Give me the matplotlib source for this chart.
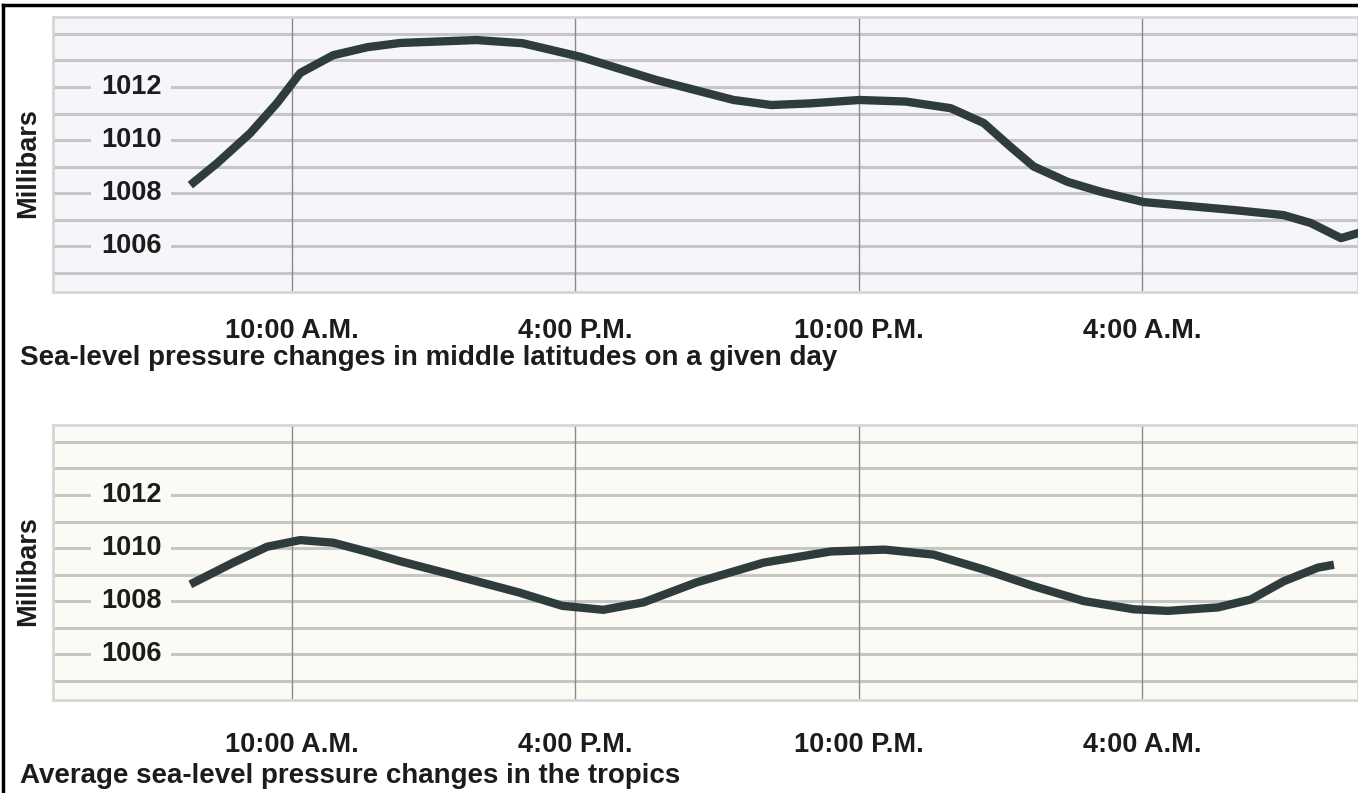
import matplotlib.pyplot as plt
from matplotlib.lines import Line2D

# hours after 10:00 A.M.
hours_mid = [-2.16, -1.59, -0.89, -0.32, 0.17, 0.87, 1.59, 2.29, 3.9, 4.88, 6.1, 7.72, 9.35, 10.15,
             10.96, 12.02, 13.0, 13.95, 14.65, 15.22, 15.71, 16.43, 17.13, 18.04, 19.95, 21.0,
             21.58, 22.22, 22.6]
mb_mid = [1008.3, 1009.13, 1010.26, 1011.4, 1012.53, 1013.2, 1013.5, 1013.66, 1013.77, 1013.65,
          1013.14, 1012.26, 1011.51, 1011.32, 1011.38, 1011.51, 1011.45, 1011.2, 1010.64, 1009.74,
          1009.0, 1008.42, 1008.05, 1007.66, 1007.36, 1007.17, 1006.87, 1006.3, 1006.5]

hours_trop = [-2.16, -1.25, -0.53, 0.17, 0.87, 1.59, 2.29, 3.37, 4.79, 5.72, 6.59, 7.44, 8.56,
              9.99, 11.41, 12.55, 13.59, 14.65, 15.71, 16.77, 17.83, 18.55, 19.61, 20.31, 21.01,
              21.73, 22.07]
mb_trop = [1008.63, 1009.45, 1010.05, 1010.3, 1010.2, 1009.86, 1009.5, 1009.0, 1008.33, 1007.82,
           1007.67, 1007.95, 1008.7, 1009.45, 1009.87, 1009.94, 1009.75, 1009.19, 1008.56, 1008.0,
           1007.69, 1007.63, 1007.76, 1008.06, 1008.75, 1009.26, 1009.37]

xticks = [0, 6, 12, 18]
xlabels = ['10:00 A.M.', '4:00 P.M.', '10:00 P.M.', '4:00 A.M.']
ylabels = [1006, 1008, 1010, 1012]
ygrid = [1005, 1006, 1007, 1008, 1009, 1010, 1011, 1012, 1013, 1014]

titles = ['Sea-level pressure changes in middle latitudes on a given day',
          'Average sea-level pressure changes in the tropics']

plt.rcParams['font.family'] = ['Liberation Sans', 'DejaVu Sans']
plt.rcParams['font.weight'] = 'bold'
plt.rcParams['axes.labelweight'] = 'bold'
textcol = '#1c1c1c'
linecol = '#2e3c3c'

fig = plt.figure(figsize=(13.58, 7.93), dpi=100)
fig.patch.set_facecolor('white')

# (x, y, axes bottom, background, caption, caption y, tick pad)
panels = [
    (hours_mid, mb_mid, 0.6318, '#f6f6fa', titles[0], 0.5485, 19),
    (hours_trop, mb_trop, 0.1173, '#fcfaf5', titles[1], 0.021, 23),
]

for xs, ys, bottom, bg, title, ty, tpad in panels:
    ax = fig.add_axes([0.039, bottom, 0.961, 0.3468])
    ax.set_facecolor(bg)
    ax.set_xlim(-5.07, 22.58)
    ax.set_ylim(1004.27, 1014.64)

    # horizontal rules every millibar
    for g in ygrid:
        ax.axhline(g, color='#c6c6c6', lw=2.2, zorder=1)
    for t in xticks:
        ax.axvline(t, color='#8a8a8a', lw=1, zorder=1)

    ax.plot(xs, ys, color=linecol, lw=6, solid_capstyle='butt', solid_joinstyle='round', zorder=3)

    # value labels sit inside the plot
    for v in ylabels:
        ax.text(0.0598, v, str(v), transform=ax.get_yaxis_transform(), ha='center', va='center',
                fontsize=19.5, color=textcol, zorder=2,
                bbox=dict(facecolor=bg, edgecolor='none', pad=7))

    ax.set_yticks([])
    ax.set_xticks(xticks)
    ax.set_xticklabels(xlabels, fontsize=19.5, color=textcol)
    ax.tick_params(axis='x', length=0, pad=tpad)

    ax.set_ylabel('Millibars', fontsize=19.5, color=textcol)
    ax.yaxis.set_label_coords(-0.009, 0.47)

    for s in ax.spines.values():
        s.set_color('#d6d6d6')
        s.set_linewidth(2)

    fig.text(0.0147, ty, title, fontsize=20, color=textcol, ha='left', va='center')

# frame around the picture (left and top)
fig.add_artist(Line2D([0.0022, 0.0022], [0.0, 0.9937], transform=fig.transFigure, color='black', lw=2.5))
fig.add_artist(Line2D([0.0022, 1.0], [0.9937, 0.9937], transform=fig.transFigure, color='black', lw=2.5))

fig.savefig('out.png', dpi=100)
